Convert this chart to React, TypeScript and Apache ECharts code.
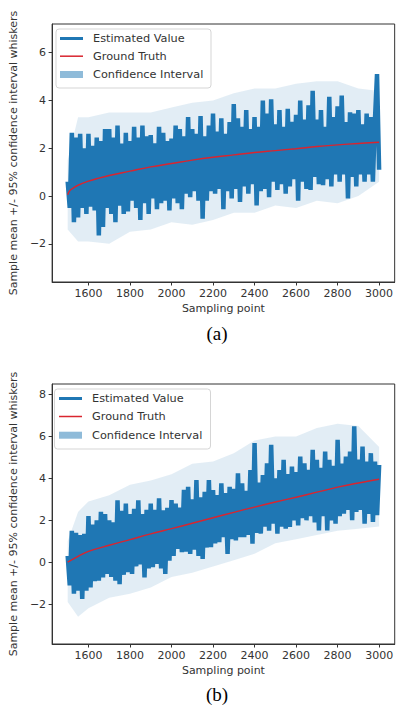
import React, { useEffect, useRef } from "react";
import * as echarts from "echarts";

// Sampling points of the estimate series: 1500, 1510, ..., 3000
const SAMPLE_START = 1500;
const SAMPLE_STEP = 10;

// Panel (a) estimated value (every 10 sampling points)
const estA = [
  0.6, -0.5, 2.65, -1.1, 2.45, -0.9, 2.6, -0.5, 2.0, -0.75,
  2.6, -0.45, 2.1, -0.6, 2.45, -1.65, 2.3, -1.3, 2.8, -0.5,
  2.8, -0.75, 2.45, -1.1, 2.95, -0.4, 2.2, -0.75, 2.65, -0.65,
  2.3, -0.2, 2.9, -0.5, 2.45, -1.0, 2.95, -0.3, 2.5, -0.75,
  2.55, -0.1, 2.2, -0.55, 2.9, -0.3, 2.65, -0.2, 2.3, -0.6,
  2.4, -0.1, 2.95, -0.3, 2.8, -0.55, 2.5, 0.1, 3.3, -0.05,
  2.8, 0.2, 2.6, -0.2, 3.35, -0.95, 2.5, -0.2, 2.95, 0.2,
  3.45, 0.1, 2.7, 0.3, 3.25, -0.55, 2.6, 0.2, 3.1, -0.1,
  3.85, 0.3, 3.25, -0.25, 2.9, 0.4, 3.6, 0.1, 2.8, 0.5,
  3.3, -0.4, 2.9, 0.2, 4.0, 0.3, 3.45, -0.05, 4.05, 0.6,
  3.0, 0.25, 3.6, 0.5, 2.9, 0.1, 3.65, 0.4, 3.1, 0.7,
  3.4, -0.2, 4.0, 0.6, 3.2, 0.3, 3.8, 0.25, 4.4, 0.8,
  3.2, 0.5, 3.6, 0.45, 2.9, 0.7, 4.15, 0.4, 3.3, 0.9,
  3.75, 0.6, 4.2, 0.9, 3.1, -0.1, 3.5, 0.8, 3.45, 0.4,
  3.6, 0.9, 3.0, 0.6, 3.45, 0.9, 3.3, 0.6, 3.2, 5.1,
  1.1,
];

// Panel (b) estimated value
const estB = [
  0.3, -1.1, 1.5, -1.5, 1.4, -1.36, 1.3, -1.75, 1.36, -1.36,
  2.2, -1.2, 1.8, -0.9, 2.0, -0.88, 2.4, -0.72, 2.3, -0.56,
  2.0, -0.7, 1.9, -0.88, 2.95, -1.05, 2.45, -0.6, 2.8, -0.48,
  2.3, -0.56, 2.55, -0.2, 2.95, -0.1, 2.3, -0.72, 2.5, -0.3,
  2.8, -0.24, 2.5, -0.08, 3.05, -0.3, 2.48, -0.56, 2.6, 0.08,
  2.96, 0.3, 2.8, 0.64, 2.6, 0.48, 3.45, 0.5, 3.6, 0.4,
  3.0, 0.6, 3.92, 0.3, 3.1, 0.16, 3.36, 0.7, 3.92, 0.72,
  3.44, 0.9, 3.2, 0.96, 3.76, 1.2, 3.3, 0.4, 3.6, 1.1,
  3.5, 1.04, 4.24, 1.2, 3.76, 1.2, 3.4, 1.3, 4.4, 0.88,
  5.68, 1.4, 3.8, 1.36, 4.16, 1.7, 4.72, 1.5, 5.6, 1.84,
  4.0, 1.36, 4.4, 1.7, 4.88, 1.6, 4.2, 1.68, 4.56, 2.0,
  4.3, 1.76, 5.04, 2.1, 4.72, 2.0, 4.4, 2.2, 5.36, 1.9,
  4.88, 1.52, 4.5, 2.2, 5.28, 1.52, 4.88, 2.0, 4.6, 1.84,
  5.84, 2.2, 4.7, 2.32, 5.04, 2.5, 5.28, 2.0, 6.48, 2.4,
  4.9, 2.5, 5.52, 1.84, 4.8, 2.3, 5.2, 1.92, 4.8, 2.24,
  4.64,
];

// Ground truth curves
const gtXA = [1500, 1510, 1525, 1550, 1600, 1650, 1700, 1800, 1900, 2000, 2100, 2200, 2300, 2400, 2500, 2600, 2700, 2800, 2900, 3000];
const gtA = [0.05, 0.22, 0.32, 0.45, 0.62, 0.75, 0.86, 1.04, 1.22, 1.36, 1.5, 1.62, 1.72, 1.82, 1.9, 1.98, 2.07, 2.14, 2.2, 2.25];
const gtXB = [1500, 1550, 1600, 1700, 1800, 1900, 2000, 2100, 2200, 2300, 2400, 2500, 2600, 2700, 2800, 2900, 3000];
const gtB = [0, 0.28, 0.52, 0.81, 1.08, 1.35, 1.6, 1.86, 2.12, 2.38, 2.63, 2.87, 3.1, 3.34, 3.58, 3.78, 3.96];

// Confidence interval envelopes
const ciX = [1500, 1550, 1600, 1700, 1800, 1900, 2000, 2100, 2200, 2300, 2400, 2500, 2600, 2700, 2800, 2900, 3000];
const ciHighA = [1.5, 3.3, 3.3, 3.5, 3.5, 3.5, 3.7, 3.9, 4.0, 4.3, 4.5, 4.5, 4.7, 4.8, 4.8, 4.5, 4.4];
const ciLowA = [-1.4, -1.9, -1.9, -2.0, -1.5, -1.4, -1.1, -1.2, -1.0, -0.7, -0.7, -0.4, -0.5, -0.2, -0.3, 0.0, 0.6];
const ciHighB = [1.0, 2.4, 2.9, 3.2, 3.7, 3.9, 4.2, 4.7, 4.8, 5.2, 5.8, 6.0, 6.0, 6.4, 6.6, 6.5, 5.5];
const ciLowB = [-1.9, -2.6, -2.2, -1.7, -1.5, -1.2, -0.7, -0.5, -0.2, 0.1, 0.4, 0.9, 1.1, 1.3, 1.5, 1.6, 1.7];

// Ticks
const xTicks = [1600, 1800, 2000, 2200, 2400, 2600, 2800, 3000];
const yTicksA = [-2, 0, 2, 4, 6];
const yTicksB = [-2, 0, 2, 4, 6, 8];

const BLUE = "#1f77b4";
const RED = "#d9252f";
const CI_FILL = "rgba(31,119,180,0.13)";
const CI_LEGEND = "#8fbbd9";
const DARK = "#333333";
const FONT = "DejaVu Sans";

const zip = (xs: number[], ys: number[]) => xs.map((x, i) => [x, ys[i]]);
const sampled = (vals: number[]) => vals.map((v, i) => [SAMPLE_START + i * SAMPLE_STEP, v]);
const minusFmt = (v: number) => (v < 0 ? "\u2212" + Math.abs(v) : String(v));

function panelSeries(i: number, est: number[], gtX: number[], gt: number[], lo: number[], hi: number[]) {
  return [
    {
      type: "custom",
      name: "Confidence Interval",
      xAxisIndex: i,
      yAxisIndex: i,
      data: ciX.map((x, k) => [x, lo[k], hi[k]]),
      encode: { x: 0, y: [1, 2] },
      silent: true,
      clip: true,
      itemStyle: { color: CI_LEGEND },
      z: 1,
      renderItem: (params: any, api: any) => {
        if (params.dataIndex !== 0) return null;
        const upper = ciX.map((x, k) => api.coord([x, hi[k]]));
        const lower = ciX.map((x, k) => api.coord([x, lo[k]])).reverse();
        return {
          type: "polygon",
          shape: { points: upper.concat(lower) },
          style: { fill: CI_FILL, stroke: "none" },
        };
      },
    },
    {
      type: "line",
      name: "Estimated Value",
      xAxisIndex: i,
      yAxisIndex: i,
      data: sampled(est),
      showSymbol: false,
      lineStyle: { color: BLUE, width: 4.5, join: "bevel" },
      itemStyle: { color: BLUE },
      z: 2,
    },
    {
      type: "line",
      name: "Ground Truth",
      xAxisIndex: i,
      yAxisIndex: i,
      data: zip(gtX, gt),
      smooth: 0.4,
      showSymbol: false,
      lineStyle: { color: RED, width: 1.4 },
      itemStyle: { color: RED },
      z: 3,
    },
  ];
}

function legendRow(name: string, left: number, top: number, h: number, color: string) {
  return {
    show: true,
    left,
    top,
    padding: 0,
    itemGap: 0,
    itemWidth: 23,
    itemHeight: h,
    selectedMode: false,
    z: 20,
    data: [{ name, icon: "rect", itemStyle: { color } }],
    textStyle: { fontSize: 11.3, color: DARK, fontFamily: FONT, padding: [0, 0, 0, 5] },
  };
}

function xAxisFor(i: number) {
  return {
    type: "value",
    gridIndex: i,
    min: 1425,
    max: 3075,
    name: "Sampling point",
    nameLocation: "middle",
    nameGap: 21,
    nameTextStyle: { fontSize: 11, color: DARK, fontFamily: FONT },
    axisLine: { show: true, onZero: false, lineStyle: { color: DARK, width: 1 } },
    axisTick: { show: true, length: 3.5, customValues: xTicks, lineStyle: { color: DARK } },
    axisLabel: {
      show: true,
      customValues: xTicks,
      fontSize: 11,
      color: DARK,
      fontFamily: FONT,
      margin: 6,
      formatter: (v: number) => String(v),
    },
    splitLine: { show: false },
  };
}

function yAxisFor(i: number, min: number, max: number, ticks: number[]) {
  return {
    type: "value",
    gridIndex: i,
    min,
    max,
    name: "Sample mean +/- 95% confidence interval whiskers",
    nameLocation: "middle",
    nameGap: 27,
    nameRotate: 90,
    nameTextStyle: { fontSize: 11, color: DARK, fontFamily: FONT },
    axisLine: { show: true, onZero: false, lineStyle: { color: DARK, width: 1 } },
    axisTick: { show: true, length: 3.5, customValues: ticks, lineStyle: { color: DARK } },
    axisLabel: { show: true, customValues: ticks, fontSize: 11, color: DARK, fontFamily: FONT, margin: 6, formatter: minusFmt },
    splitLine: { show: false },
  };
}

export default function App() {
  const ref = useRef<HTMLDivElement>(null);
  useEffect(() => {
    if (!ref.current) return;
    const chart = echarts.init(ref.current, undefined, { renderer: "svg" });
    chart.setOption({
      animation: false,
      backgroundColor: "#ffffff",
      grid: [
        { left: 50, top: 24, width: 345, height: 258, show: true, borderColor: DARK, borderWidth: 1, backgroundColor: "transparent" },
        { left: 49, top: 384, width: 346, height: 260, show: true, borderColor: DARK, borderWidth: 1, backgroundColor: "transparent" },
      ],
      xAxis: [xAxisFor(0), xAxisFor(1)],
      yAxis: [yAxisFor(0, -3.6, 7.2, yTicksA), yAxisFor(1, -3.9, 8.5, yTicksB)],
      series: [
        ...panelSeries(0, estA, gtXA, gtA, ciLowA, ciHighA),
        ...panelSeries(1, estB, gtXB, gtB, ciLowB, ciHighB),
      ],
      legend: [
        legendRow("Estimated Value", 60, 33, 3, BLUE),
        legendRow("Ground Truth", 60, 50.7, 1.5, RED),
        legendRow("Confidence Interval", 60, 69, 7, CI_LEGEND),
        legendRow("Estimated Value", 59, 393, 3, BLUE),
        legendRow("Ground Truth", 59, 411, 1.5, RED),
        legendRow("Confidence Interval", 59, 429.7, 7, CI_LEGEND),
      ],
      graphic: [
        {
          type: "rect",
          z: 10,
          shape: { x: 56, y: 29, width: 155, height: 59, r: 3 },
          style: { fill: "rgba(255,255,255,0.85)", stroke: "#d5d5d5", lineWidth: 1 },
        },
        {
          type: "rect",
          z: 10,
          shape: { x: 54.5, y: 389, width: 156, height: 60, r: 3 },
          style: { fill: "rgba(255,255,255,0.85)", stroke: "#d5d5d5", lineWidth: 1 },
        },
        {
          type: "text",
          x: 217,
          y: 333,
          z: 10,
          style: { text: "(a)", fontSize: 19, fontFamily: "Liberation Serif", fill: "#000", align: "center", verticalAlign: "middle" },
        },
        {
          type: "text",
          x: 217,
          y: 694,
          z: 10,
          style: { text: "(b)", fontSize: 19, fontFamily: "Liberation Serif", fill: "#000", align: "center", verticalAlign: "middle" },
        },
      ],
    });
    return () => chart.dispose();
  }, []);
  return (
    <div
      ref={ref}
      style={{ position: "absolute", left: 0, top: 0, width: 396, height: 708, background: "#fff" }}
    />
  );
}
